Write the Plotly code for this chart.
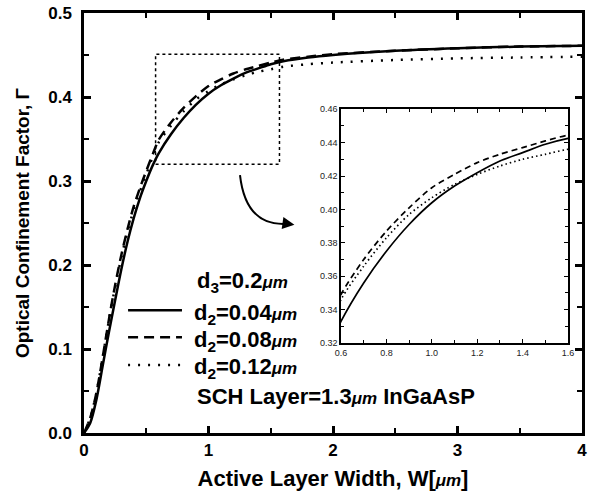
import plotly.graph_objects as go

# ---- data ----
w = [0, 0.05, 0.1, 0.15, 0.2, 0.25, 0.3, 0.35, 0.4, 0.45, 0.5, 0.55, 0.6, 0.7, 0.8, 0.9,
     1.0, 1.1, 1.2, 1.3, 1.4, 1.5, 1.6, 1.8, 2.0, 2.5, 3.0, 3.5, 4.0]
g_004 = [0, 0.012, 0.040, 0.080, 0.120, 0.158, 0.195, 0.228, 0.256, 0.280, 0.300, 0.318, 0.333,
         0.356, 0.375, 0.391, 0.404, 0.414, 0.422, 0.429, 0.434, 0.439, 0.4425, 0.447, 0.450,
         0.455, 0.458, 0.460, 0.461]
g_008 = [0, 0.018, 0.048, 0.090, 0.135, 0.176, 0.212, 0.243, 0.270, 0.292, 0.312, 0.331, 0.349,
         0.370, 0.387, 0.401, 0.413, 0.421, 0.428, 0.433, 0.437, 0.441, 0.4445, 0.448, 0.451,
         0.455, 0.458, 0.460, 0.461]
g_012 = [0, 0.018, 0.048, 0.090, 0.134, 0.174, 0.209, 0.240, 0.266, 0.288, 0.308, 0.328, 0.346,
         0.366, 0.383, 0.397, 0.407, 0.415, 0.421, 0.426, 0.430, 0.433, 0.436, 0.439, 0.441,
         0.444, 0.446, 0.447, 0.448]

MU = "<span style='font-size:17px'><i>μm</i></span>"
series_names = ["d<sub>2</sub>=0.04" + MU, "d<sub>2</sub>=0.08" + MU, "d<sub>2</sub>=0.12" + MU]
series_vals = [g_004, g_008, g_012]
dash_main = ["solid", "10px,6px", "2px,8px"]
dash_inset = ["solid", "6px,4px", "1.5px,3px"]

x_ticks_main = [0, 1, 2, 3, 4]
y_ticks_main = [0.0, 0.1, 0.2, 0.3, 0.4, 0.5]
x_ticks_inset = [0.6, 0.8, 1.0, 1.2, 1.4, 1.6]
y_ticks_inset = [0.32, 0.34, 0.36, 0.38, 0.40, 0.42, 0.44, 0.46]

FONT = "Liberation Sans, Arial, sans-serif"

fig = go.Figure()
for name, vals, d in zip(series_names, series_vals, dash_main):
    fig.add_trace(go.Scatter(x=w, y=vals, mode="lines", name=name, showlegend=False,
                             line=dict(color="black", width=2.5, dash=d, shape="spline",
                                       smoothing=0.8),
                             xaxis="x", yaxis="y"))
for name, vals, d in zip(series_names, series_vals, dash_inset):
    fig.add_trace(go.Scatter(x=w, y=vals, mode="lines", name=name, showlegend=False,
                             line=dict(color="black", width=1.7, dash=d, shape="spline",
                                       smoothing=0.8),
                             xaxis="x2", yaxis="y2"))

axis_common = dict(showline=True, linecolor="black", mirror="ticks", ticks="inside",
                   showgrid=False, zeroline=False, tickcolor="black", automargin=False)

fig.update_layout(
    width=592, height=499,
    margin=dict(l=84, r=10, t=13, b=66),
    plot_bgcolor="white", paper_bgcolor="white",
    font=dict(family=FONT, color="black"),
    showlegend=False,
    xaxis=dict(**axis_common, range=[0, 4], tickvals=x_ticks_main, linewidth=2.5,
               ticklen=7, tickwidth=2.5,
               minor=dict(ticks="inside", dtick=0.5, ticklen=5, tickwidth=2, tickcolor="black"),
               tickfont=dict(size=17, weight="bold"),
               title=dict(text="Active Layer Width, W[" + MU + "]",
                          font=dict(size=22, weight="bold"), standoff=12)),
    yaxis=dict(**axis_common, range=[0, 0.5], tickvals=y_ticks_main, tickformat=".1f",
               linewidth=2.5, ticklen=7, tickwidth=2.5, ticklabelstandoff=6,
               minor=dict(ticks="inside", dtick=0.05, ticklen=5, tickwidth=2, tickcolor="black"),
               tickfont=dict(size=17, weight="bold"),
               title=dict(text="Optical Confinement Factor, Γ",
                          font=dict(size=19, weight="bold"), standoff=14)),
    xaxis2=dict(**axis_common, domain=[0.516, 0.972], anchor="y2", range=[0.6, 1.6],
                tickvals=x_ticks_inset, tickformat=".1f", linewidth=1.5, ticklen=4,
                tickwidth=1.2,
                minor=dict(ticks="inside", dtick=0.1, ticklen=3, tickwidth=1, tickcolor="black"),
                tickfont=dict(size=9, color="#222")),
    yaxis2=dict(**axis_common, domain=[0.214, 0.771], anchor="x2", range=[0.32, 0.46],
                tickvals=y_ticks_inset, tickformat=".2f", linewidth=1.5, ticklen=4,
                tickwidth=1.2,
                minor=dict(ticks="inside", dtick=0.01, ticklen=3, tickwidth=1, tickcolor="black"),
                tickfont=dict(size=9, color="#222")),
)

# dotted zoom rectangle on the main axes
fig.add_shape(type="rect", xref="x", yref="y", x0=0.575, x1=1.57, y0=0.32, y1=0.451,
              line=dict(color="black", width=1.5, dash="dot"))
# curved arrow
fig.add_shape(type="path", xref="x", yref="y",
              path="M 1.253,0.307 Q 1.30,0.245 1.64,0.249",
              line=dict(color="black", width=2))
fig.add_annotation(x=1.69, y=0.248, ax=1.62, ay=0.2495, xref="x", yref="y",
                   axref="x", ayref="y", text="", showarrow=True,
                   arrowhead=2, arrowsize=1.2, arrowwidth=2, arrowcolor="black")

# legend (header, line samples, labels)
fig.add_annotation(x=0.89, y=0.18, xref="x", yref="y", xanchor="left", yanchor="middle",
                   text="d<sub>3</sub>=0.2" + MU, showarrow=False,
                   font=dict(size=22, weight="bold", family=FONT))
legend_y = [0.146, 0.114, 0.081]
for name, d, ly in zip(series_names, dash_main, legend_y):
    fig.add_shape(type="line", xref="x", yref="y", x0=0.354, x1=0.787, y0=ly, y1=ly,
                  line=dict(color="black", width=2.5, dash=d))
    fig.add_annotation(x=0.867, y=ly - 0.004, xref="x", yref="y", xanchor="left",
                       yanchor="middle", text=name, showarrow=False,
                       font=dict(size=22, weight="bold", family=FONT))
fig.add_annotation(x=0.89, y=0.043, xref="x", yref="y", xanchor="left", yanchor="middle",
                   text="SCH Layer=1.3" + MU + " InGaAsP",
                   showarrow=False, font=dict(size=22, weight="bold", family=FONT))

# remove the browser's default page margin so the 592x499 figure fills the window
fig.write_html("out.html", config={"displayModeBar": False},
               post_script="document.body.style.margin='0';document.body.style.overflow='hidden';")
